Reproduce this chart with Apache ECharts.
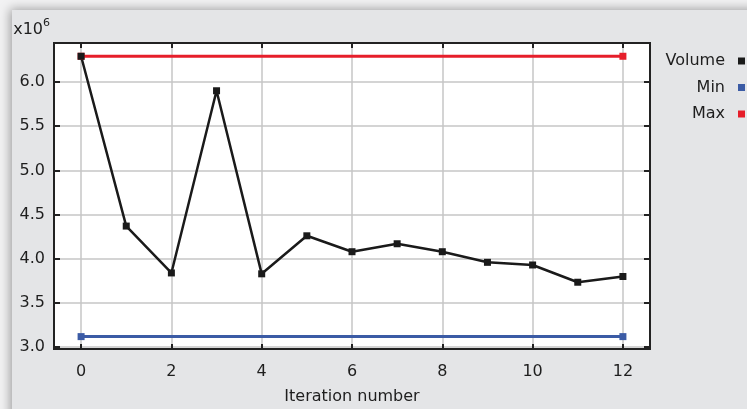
<!DOCTYPE html>
<html>
<head>
<meta charset="utf-8">
<script src="https://cdn.jsdelivr.net/npm/echarts@6/dist/echarts.min.js"></script>
<style>
  html, body { margin: 0; padding: 0; background: #f2f2f3; }
  #chart { width: 747px; height: 409px; }
</style>
</head>
<body>
<div id="chart"></div>
<script>
// iterations and volume (in units of 10^6)
var iterations = [0, 1, 2, 3, 4, 5, 6, 7, 8, 9, 10, 11, 12];
var volume = [6.29, 4.37, 3.84, 5.90, 3.83, 4.26, 4.08, 4.17, 4.08, 3.96, 3.93, 3.735, 3.80];
var boundIters = [0, 12];
var minVolume = 3.12;
var maxVolume = 6.29;
var xTicks = [0, 2, 4, 6, 8, 10, 12];
var yTicks = [3.0, 3.5, 4.0, 4.5, 5.0, 5.5, 6.0];

var font = 'DejaVu Sans, sans-serif';
var textColor = '#1e1e1e';
var tickStyle = { color: '#222', width: 2 };

var chart = echarts.init(document.getElementById('chart'));

var volumeData = iterations.map(function (it, i) { return [it, volume[i]]; });
var minData = boundIters.map(function (it) { return [it, minVolume]; });
var maxData = boundIters.map(function (it) { return [it, maxVolume]; });

var option = {
  backgroundColor: '#f2f2f3',
  animation: false,
  graphic: [{
    type: 'rect',
    left: 12, top: 10,
    shape: { width: 760, height: 420 },
    style: { fill: '#e4e5e7', shadowBlur: 10, shadowColor: 'rgba(0,0,0,0.35)', shadowOffsetX: -2, shadowOffsetY: -1 },
    z: -10
  }],
  grid: {
    left: 54, right: 97, top: 43, bottom: 60,
    outerBoundsMode: 'none',
    containLabel: false,
    show: true, backgroundColor: '#fff', borderColor: '#222', borderWidth: 2
  },
  legend: {
    orient: 'vertical',
    right: -3, top: 48,
    align: 'right',
    itemWidth: 7, itemHeight: 7, itemGap: 10.5,
    icon: 'rect',
    textStyle: { fontFamily: font, fontSize: 16, color: textColor, padding: [0, 8, 0, 0] },
    data: ['Volume', 'Min', 'Max']
  },
  xAxis: [{
    type: 'value',
    min: -0.6, max: 12.6,
    name: 'Iteration number',
    nameLocation: 'middle', nameGap: 40,
    nameTextStyle: { fontFamily: font, fontSize: 16, color: textColor },
    axisLine: { show: false, onZero: false },
    axisTick: { show: true, inside: true, length: 5, customValues: xTicks, lineStyle: tickStyle },
    axisLabel: { customValues: xTicks, margin: 15, fontFamily: font, fontSize: 16, color: textColor },
    splitLine: { show: true, lineStyle: { color: '#c6c6c6', width: 1.5 } }
  }, {
    type: 'value', position: 'top',
    min: -0.6, max: 12.6,
    axisLine: { show: false, onZero: false },
    axisTick: { show: true, inside: true, length: 5, customValues: xTicks, lineStyle: tickStyle },
    axisLabel: { show: false },
    splitLine: { show: false }
  }],
  yAxis: [{
    type: 'value',
    min: 2.98, max: 6.44,
    name: '{a|x10}{b|6}',
    nameLocation: 'end', nameGap: 2,
    nameTextStyle: {
      align: 'right', padding: [0, 4, 0, 0],
      rich: {
        a: { fontFamily: font, fontSize: 16, color: textColor },
        b: { fontFamily: font, fontSize: 11, color: textColor, verticalAlign: 'top', padding: [0, 0, 12, 0] }
      }
    },
    axisLine: { show: false, onZero: false },
    axisTick: { show: true, inside: true, length: 6, customValues: yTicks, lineStyle: tickStyle },
    axisLabel: {
      customValues: yTicks, margin: 9, fontFamily: font, fontSize: 16, color: textColor,
      formatter: function (v) { return v.toFixed(1); }
    },
    splitLine: { show: true, lineStyle: { color: '#c6c6c6', width: 1.5 } }
  }, {
    type: 'value', position: 'right',
    min: 2.98, max: 6.44,
    axisLine: { show: false, onZero: false },
    axisTick: { show: true, inside: true, length: 6, customValues: yTicks, lineStyle: tickStyle },
    axisLabel: { show: false },
    splitLine: { show: false }
  }],
  series: [{
    name: 'Max', type: 'line', data: maxData,
    symbol: 'rect', symbolSize: 7,
    itemStyle: { color: '#e61e2a' },
    lineStyle: { color: '#e61e2a', width: 3 }
  }, {
    name: 'Min', type: 'line', data: minData,
    symbol: 'rect', symbolSize: 7,
    itemStyle: { color: '#3b5ba5' },
    lineStyle: { color: '#3b5ba5', width: 3 }
  }, {
    name: 'Volume', type: 'line', data: volumeData,
    symbol: 'rect', symbolSize: 7,
    itemStyle: { color: '#1a1a1a' },
    lineStyle: { color: '#1a1a1a', width: 2.5 },
    z: 3
  }]
};

chart.setOption(option);
</script>
</body>
</html>
